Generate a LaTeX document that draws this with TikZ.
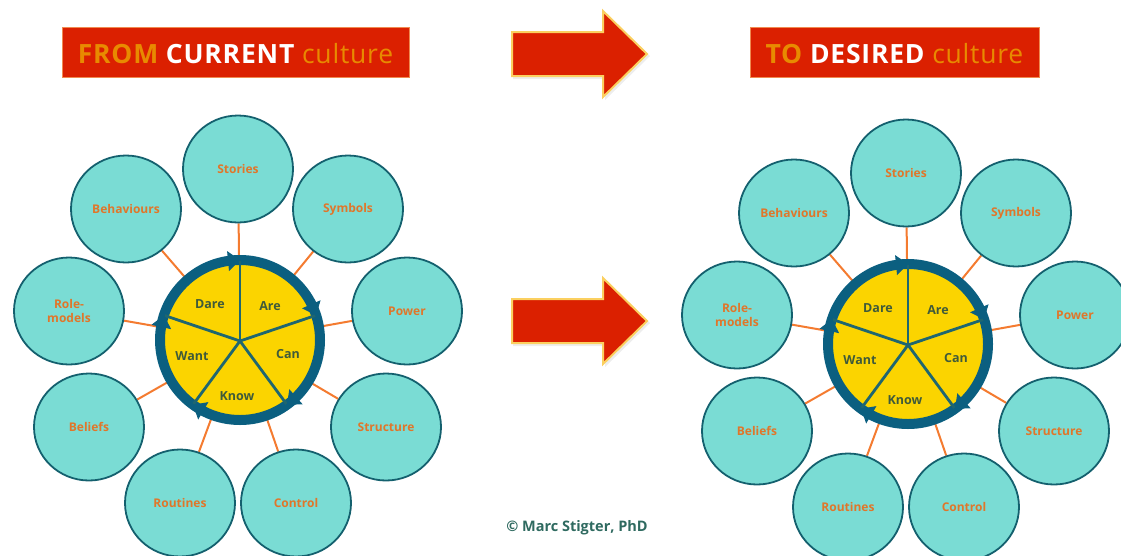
\documentclass[tikz,border=0pt]{standalone}
\usepackage{fontspec}
\setmainfont{Open Sans}
\usetikzlibrary{arrows.meta,backgrounds,calc,shapes.geometric}
\definecolor{tealfill}{HTML}{7ADCD4}
\definecolor{tealline}{HTML}{14606E}
\definecolor{ringblue}{HTML}{0B5F80}
\definecolor{spoke}{HTML}{1F6670}
\definecolor{hubfill}{HTML}{FBD400}
\definecolor{orangetxt}{HTML}{E0762A}
\definecolor{linkor}{HTML}{F47B30}
\definecolor{wheeltxt}{HTML}{3F5A3A}
\definecolor{bannerred}{HTML}{DB2000}
\definecolor{bannerline}{HTML}{F08A50}
\definecolor{amber}{HTML}{E88A00}
\definecolor{arrowedge}{HTML}{FBD060}
\definecolor{credittxt}{HTML}{2F6A60}
\tikzset{
  x=1pt,y=-1pt,
  sat/.style={ellipse,draw=tealline,line width=1.8pt,fill=tealfill,minimum width=110pt,minimum height=107pt,inner sep=0pt,
    text=orangetxt,font=\fontsize{12}{14}\selectfont\bfseries,align=center},
  hub/.style={circle,fill=hubfill,draw=ringblue,line width=10pt,minimum size=160pt,inner sep=0pt,outer sep=0pt},
  link/.style={draw=linkor,line width=2pt},
  spokeline/.style={draw=spoke,line width=2.8pt},
  ringtip/.style={draw=ringblue,line width=1pt,-{Triangle[length=12pt,width=20pt]}},
  wlabel/.style={text=wheeltxt,font=\fontsize{12.5}{14}\selectfont\bfseries,inner sep=0pt},
  banner/.style={draw=bannerline,line width=1pt,fill=bannerred,minimum height=50pt,inner sep=0pt,
    font=\fontsize{26.5}{28}\selectfont},
  bigarrow/.style={draw=arrowedge,line width=2pt,fill=bannerred,line join=miter},
  arrowshade/.style={fill=black!20,opacity=.35},
  credit/.style={text=credittxt,font=\fontsize{14.5}{16}\selectfont\bfseries,inner sep=0pt}
}
\newcommand{\BannerText}[2]{\raisebox{-11pt}[0pt][0pt]{\addfontfeature{LetterSpace=3}{\color{amber}\bfseries #1} {\color{white}\bfseries #2} {\color{amber}culture}}}
\newcommand{\BigArrow}[1]{%
  \begin{scope}[yshift=-#1pt]
    \path[arrowshade] (513,34)--(605,34)--(605,13)--(650,56)--(605,100)--(605,79)--(513,79)--cycle;
    \path[bigarrow] (512,32)--(603,32)--(603,11)--(647,54)--(603,97)--(603,76)--(512,76)--cycle;
  \end{scope}}
\newcommand{\Wheel}[3]{% prefix, x offset, y offset
  \begin{scope}[shift={(#2,#3)}]
    \node[hub] (#1h) at (240,340) {};
    \coordinate (#1c) at (240,341);
    \node[sat] (#1s1) at (238,169) {Stories};
    \node[sat] (#1s2) at (348,209) {Symbols};
    \node[sat] (#1s3) at (407,311) {Power};
    \node[sat] (#1s4) at (386,427) {Structure};
    \node[sat] (#1s5) at (296,503) {Control};
    \node[sat] (#1s6) at (180,503) {Routines};
    \node[sat] (#1s7) at (89,427) {Beliefs};
    \node[sat] (#1s8) at (69,311) {Role-\\models};
    \node[sat] (#1s9) at (126,209) {Behaviours};
    \begin{pgfonlayer}{background}
      \foreach \n in {1,...,9} \draw[link] (#1c) -- (#1s\n);
    \end{pgfonlayer}
    \foreach \a in {-90,-18,54,126,198} {
      \draw[spokeline] (#1c) -- ($(#1h.center)+(\a:79)$);
      \draw[ringtip] ($(#1h.center)+(\a-11:80)$) -- ($(#1h.center)+(\a:80)$);
    }
    \node[wlabel] (#1w1) at (210,304) {Dare};
    \node[wlabel] (#1w2) at (270,306) {Are};
    \node[wlabel] (#1w3) at (288,354) {Can};
    \node[wlabel] (#1w4) at (237,396) {Know};
    \node[wlabel] (#1w5) at (192,356) {Want};
  \end{scope}}
\begin{document}
\begin{tikzpicture}
  \useasboundingbox (0,0) rectangle (1121,555);
  \clip (0,0) rectangle (1121,555);
  \node[banner,minimum width=347pt] (b1) at (235.5,52) {\BannerText{FROM}{CURRENT}};
  \node[banner,minimum width=289pt] (b2) at (894.5,52) {\BannerText{TO}{DESIRED}};
  \BigArrow{0}
  \BigArrow{267}
  \Wheel{l}{0}{0}
  \Wheel{r}{668}{4}
  \node[credit] (cr) at (577,528) {© Marc Stigter, PhD};
\end{tikzpicture}
\end{document}
